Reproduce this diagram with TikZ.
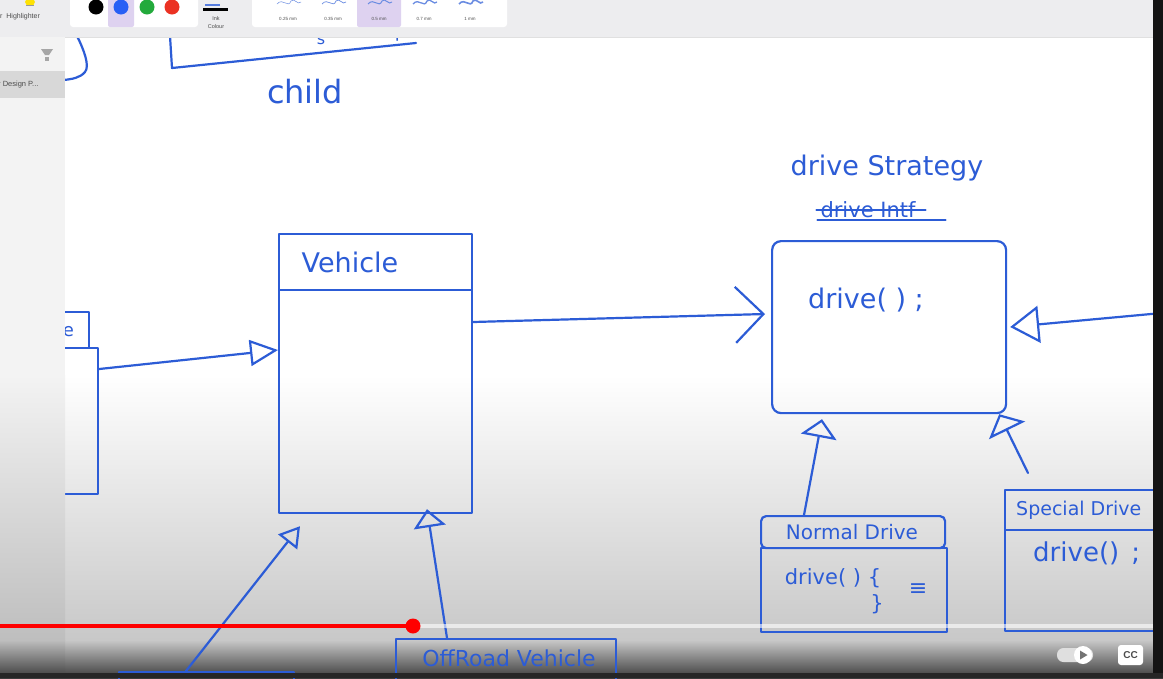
\documentclass[tikz,border=0pt]{standalone}
\usepackage{fontspec}
\setmainfont{Liberation Sans}
\newfontfamily\hw{DejaVu Sans}
\usetikzlibrary{arrows.meta,calc}
\definecolor{ink}{RGB}{44,92,214}
\definecolor{bgA}{RGB}{200,200,200}
\definecolor{bgB}{RGB}{60,60,60}
\definecolor{barbg}{RGB}{237,237,239}
\definecolor{selbg}{RGB}{222,210,240}
\definecolor{sidebg}{RGB}{243,243,243}
\definecolor{sidesel}{RGB}{216,216,216}
\definecolor{ytred}{RGB}{255,0,0}
\tikzset{
  pen/.style={draw=ink, line width=2.2pt, line cap=round, line join=round},
  classbox/.style={pen, rectangle, inner sep=0pt, anchor=north west},
  hwtext/.style={text=ink, inner sep=0pt, font=\hw\fontsize{#1}{#1}\selectfont},
  inherit/.style 2 args={pen, -{Triangle[open, length=#1, width=#2]}},
  uses/.style={pen, -{Straight Barb[length=28pt, width=56pt]}},
  tbtext/.style={inner sep=0pt, text=black!70, font=\fontsize{#1}{#1}\selectfont},
  dot/.style={circle, inner sep=0pt, minimum size=15pt}
}
\begin{document}
\begin{tikzpicture}[x=1pt,y=-1pt]
\useasboundingbox (0,0) rectangle (1163,678);
\clip (0,0) rectangle (1163,678);
% ---------- background (video frame) ----------
\fill[white] (0,0) rectangle (1163,678);
\shade[top color=white, bottom color=bgA] (0,375) rectangle (1163,640);
\shade[top color=bgA, bottom color=bgB] (0,640) rectangle (1163,678);

% ---------- remnants at top ----------
\draw[pen] (77,36) .. controls (84,50) and (90,66) .. (85,72) .. controls (80,78) and (72,79) .. (64,80);
\draw[pen] (170,36) -- (172,68) -- (416,43);
\node[hwtext=16] (sfrag) at (321,40) {s};
\node[hwtext=18] (opfrag) at (395,34) {op};
\node[hwtext=32] (child) at (305,92) {child};

% ---------- left partial class ----------
\node[classbox, minimum width=62pt, minimum height=36pt] (carHead) at (26,311) {};
\node[classbox, minimum width=71pt, minimum height=146pt] (carBody) at (26,347) {};
\node[hwtext=18] (carLabel) at (66,330) {le};

% ---------- Vehicle ----------
\node[classbox, minimum width=193pt, minimum height=56pt] (vehHead) at (278,233) {};
\node[classbox, minimum width=193pt, minimum height=223pt] (vehBody) at (278,289) {};
\node[hwtext=27] (vehLabel) at (350,262) {Vehicle};

% ---------- drive Strategy ----------
\node[hwtext=27] (dsTitle) at (887,168) {drive Strategy};
\node[hwtext=21] (dsOld) at (868,210) {drive Intf};
\draw[pen, line width=1.8pt] ([xshift=-4pt]dsOld.west) -- ([xshift=10pt]dsOld.east);
\draw[pen, line width=1.8pt] ([xshift=-3pt,yshift=-2pt]dsOld.south west) -- ([xshift=30pt,yshift=-2pt]dsOld.south east);
\node[classbox, rounded corners=9pt, minimum width=234pt, minimum height=172pt] (ds) at (771,240) {};
\node[hwtext=27] (dsMethod) at (866,300) {drive( ) ;};

% ---------- Normal Drive ----------
\node[classbox, rounded corners=5pt, minimum width=184pt, minimum height=32pt] (ndHead) at (760,515) {};
\node[classbox, minimum width=186pt, minimum height=84pt] (ndBody) at (760,547) {};
\node[hwtext=20] (ndLabel) at (852,532) {Normal Drive};
\node[hwtext=21] (ndMethod) at (833,578) {drive( ) \{};
\node[hwtext=21] (ndClose) at (877,604) {\}};
\node[hwtext=22] (ndEq) at (918,590) {≡};

% ---------- Special Drive ----------
\node[classbox, minimum width=170pt, minimum height=40pt] (sdHead) at (1004,489) {};
\node[classbox, minimum width=170pt, minimum height=101pt] (sdBody) at (1004,529) {};
\node[hwtext=19, anchor=west] (sdLabel) at (1016,510) {Special Drive};
\node[hwtext=26, anchor=west] (sdMethod) at (1033,553) {drive()\hspace{12pt};};

% ---------- lower classes ----------
\node[classbox, minimum width=220pt, minimum height=62pt] (offroad) at (395,638) {};
\node[hwtext=22] (offLabel) at (509,658) {OffRoad Vehicle};
\node[classbox, minimum width=175pt, minimum height=40pt] (childBox) at (118,671) {};

% ---------- connectors ----------
\draw[inherit={28pt}{26pt}] ($(carBody.north east)+(0,22)$) -- ($(vehBody.north west)+(0,61)$);
\draw[uses] ($(vehBody.north east)+(0,33)$) -- ($(ds.north west)+(-6,74)$);
\coordinate (rightEnd) at (1162,313);
\draw[inherit={29pt}{37pt}] (rightEnd) -- ($(ds.north east)+(3,87)$);
\draw[inherit={18pt}{36pt}] ($(ndHead.north west)+(44,0)$) -- ($(ds.south west)+(51,5)$);
\draw[inherit={18pt}{40pt}] ($(sdHead.north west)+(24,-16)$) -- ($(ds.south east)+(-8,0)$);
\draw[inherit={20pt}{24pt}] ($(childBox.north west)+(68,0)$) -- ($(vehBody.south west)+(22,12)$);
\draw[inherit={18pt}{32pt}] ($(offroad.north west)+(52,0)$) -- ($(vehBody.south west)+(149,-5)$);

% ---------- toolbar ----------
\fill[barbg] (0,0) rectangle (1163,37);
\draw[black!12, line width=0.6pt] (65,37.5) -- (1163,37.5);
\fill[yellow!85!orange] (30,2) ellipse (5pt and 4pt);
\draw[black!40, line width=0.5pt] (26,5) -- (34,5);
\node[tbtext=7, anchor=west] (hlLabel) at (0,17) {r\ \ Highlighter};
\fill[white, rounded corners=3pt] (70,-5) rectangle (198,27);
\fill[selbg, rounded corners=2pt] (108,-5) rectangle (134,27);
\node[dot, fill=black] (cBlack) at (96,7) {};
\node[dot, fill={rgb,255:red,40;green,95;blue,245}] (cBlue) at (121,7) {};
\node[dot, fill={rgb,255:red,35;green,170;blue,60}] (cGreen) at (147,7) {};
\node[dot, fill={rgb,255:red,235;green,50;blue,35}] (cRed) at (172,7) {};
\fill[black] (203,8) rectangle (228,11);
\fill[ink!80] (205,4) rectangle (220,6);
\node[tbtext=5.5] (inkA) at (216,19) {Ink};
\node[tbtext=5.5] (inkB) at (216,27) {Colour};
\fill[white, rounded corners=3pt] (252,-5) rectangle (507,27);
\fill[selbg, rounded corners=2pt] (357,-5) rectangle (401,27);
\foreach \px/\lw in {288/0.5, 333/0.7, 379/1.0, 424/1.3, 470/1.6}{
  \draw[ink!70, line width=\lw pt] (\px-11,4) .. controls (\px-5,-3) and (\px,9) .. (\px+3,1) .. controls (\px+6,-3) and (\px+10,6) .. (\px+13,2);
}
\node[tbtext=4.5] (w1) at (288,19) {0.25 mm};
\node[tbtext=4.5] (w2) at (333,19) {0.35 mm};
\node[tbtext=4.5] (w3) at (379,19) {0.5 mm};
\node[tbtext=4.5] (w4) at (424,19) {0.7 mm};
\node[tbtext=4.5] (w5) at (470,19) {1 mm};

% ---------- sidebar ----------
\fill[sidebg] (0,37) rectangle (65,375);
\shade[top color=sidebg, bottom color=bgA!95!black] (0,375) rectangle (65,640);
\shade[top color=bgA!95!black, bottom color=bgB] (0,640) rectangle (65,678);
\fill[sidesel] (0,71) rectangle (65,98);
\node[tbtext=7.5, anchor=west] (sideItem) at (-2,85) {r Design P...};
\fill[black!35] (41,49) -- (53,49) -- (49,55) -- (45,55) -- cycle;
\fill[black!35] (45,57) rectangle (49,61);

% ---------- video overlay ----------
\fill[black!92] (1153,0) rectangle (1163,678);
\draw[white, opacity=0.6, line width=4.5pt] (413,626) -- (1153,626);
\draw[ytred, line width=4.5pt] (0,626) -- (413,626);
\fill[ytred] (413,626) circle (7.5pt);
\fill[black!85] (0,673) rectangle (1163,678);
\fill[white!75!gray, rounded corners=6.5pt] (1057,648) rectangle (1093,662);
\fill[white] (1083,655) circle (9pt);
\fill[black!55] (1080,650.5) -- (1080,659.5) -- (1087.5,655) -- cycle;
\fill[white, rounded corners=3pt] (1118,645) rectangle (1143,665);
\node[inner sep=0pt, text=black!70, font=\bfseries\fontsize{10}{10}\selectfont] (cc) at (1130.5,655.5) {CC};
\end{tikzpicture}
\end{document}
